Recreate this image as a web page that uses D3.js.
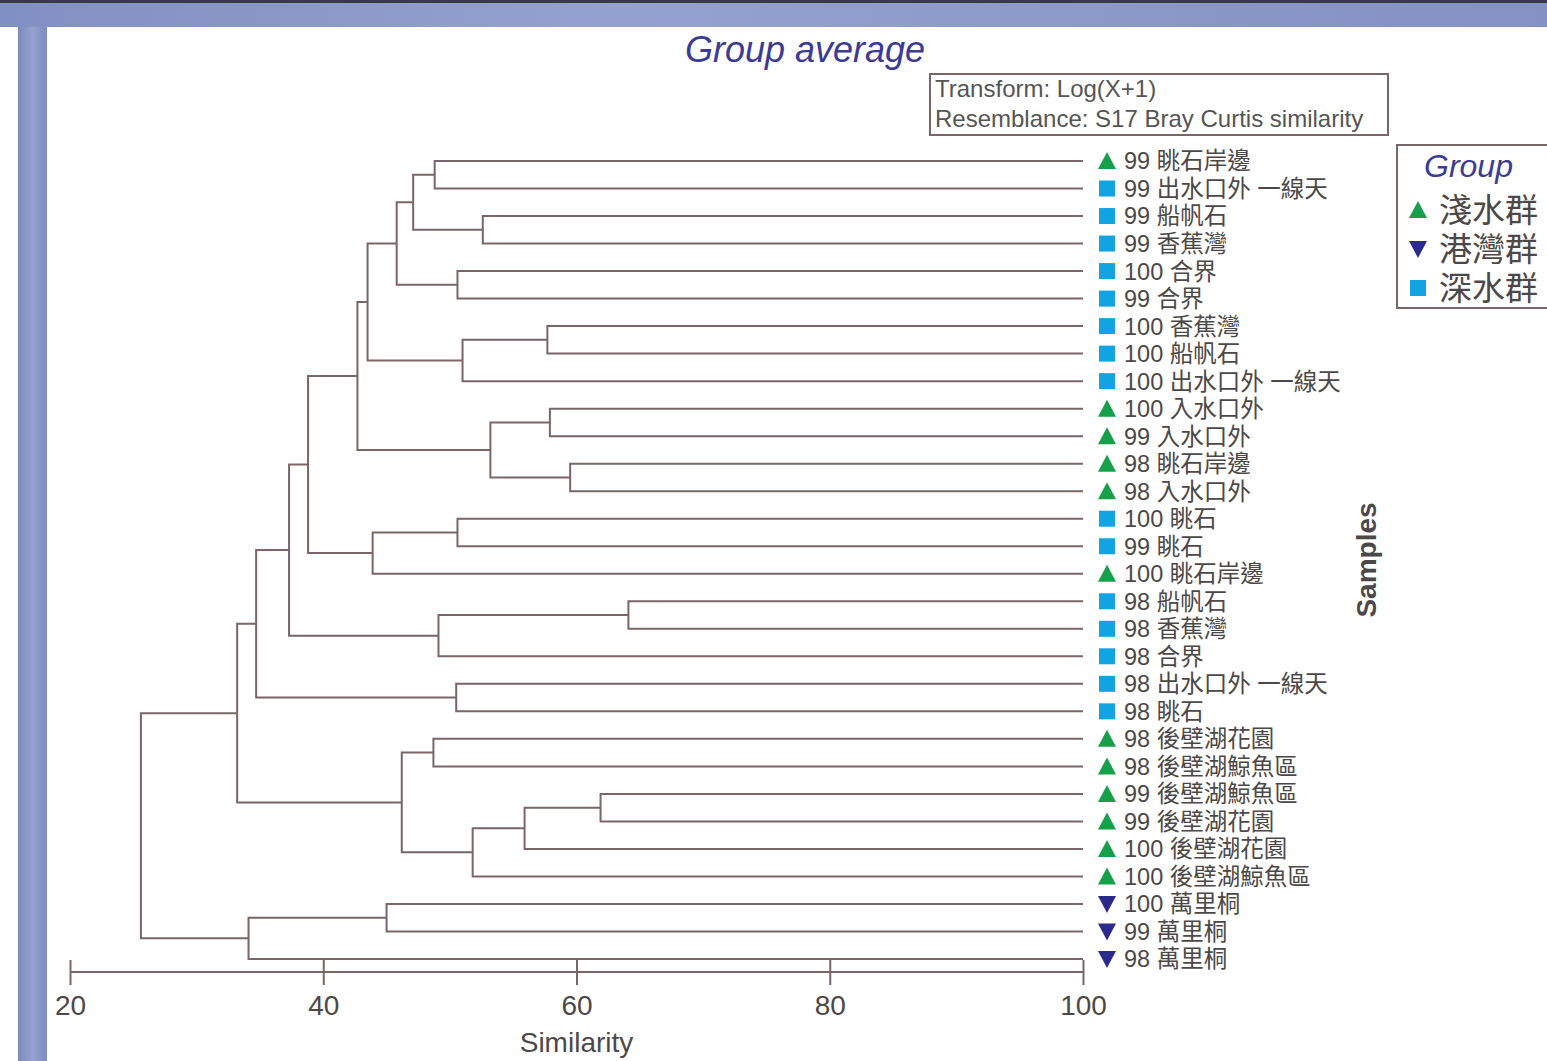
<!DOCTYPE html>
<html>
<head>
<meta charset="utf-8">
<script src="https://cdn.jsdelivr.net/npm/d3@7"></script>
<style>
  body { margin: 0; background: #fff; }
  svg { display: block; }
  text { font-family: "Liberation Sans", Arial, sans-serif; }
  .cjk { font-family: "Liberation Sans", "Noto Sans CJK TC", sans-serif; }
</style>
</head>
<body>
<svg id="chart"></svg>
<script>
// --- Data ---
const leafLabels = [
  "99 眺石岸邊", "99 出水口外 一線天", "99 船帆石", "99 香蕉灣", "100 合界", "99 合界",
  "100 香蕉灣", "100 船帆石", "100 出水口外 一線天", "100 入水口外", "99 入水口外",
  "98 眺石岸邊", "98 入水口外", "100 眺石", "99 眺石", "100 眺石岸邊", "98 船帆石",
  "98 香蕉灣", "98 合界", "98 出水口外 一線天", "98 眺石", "98 後壁湖花園",
  "98 後壁湖鯨魚區", "99 後壁湖鯨魚區", "99 後壁湖花園", "100 後壁湖花園",
  "100 後壁湖鯨魚區", "100 萬里桐", "99 萬里桐", "98 萬里桐",
];
const leafGroups = [
  "淺水群", "深水群", "深水群", "深水群", "深水群", "深水群", "深水群", "深水群", "深水群",
  "淺水群", "淺水群", "淺水群", "淺水群", "深水群", "深水群", "淺水群", "深水群", "深水群",
  "深水群", "深水群", "深水群", "淺水群", "淺水群", "淺水群", "淺水群", "淺水群", "淺水群",
  "港灣群", "港灣群", "港灣群",
];
// merges: node ids 0..29 are leaves, each merge creates node 30, 31, ...
const mergePairs = [
  [0, 1], [2, 3], [30, 31], [4, 5], [32, 33], [6, 7], [35, 8], [34, 36],
  [9, 10], [11, 12], [38, 39], [37, 40], [13, 14], [42, 15], [41, 43],
  [16, 17], [45, 18], [44, 46], [19, 20], [47, 48], [21, 22], [23, 24],
  [51, 25], [52, 26], [50, 53], [49, 54], [27, 28], [56, 29], [55, 57],
];
const mergeSims = [
  48.8, 52.6, 47.1, 50.6, 45.8, 57.7, 51.0, 43.5,
  57.9, 59.5, 53.2, 42.7, 50.6, 43.9, 38.8,
  64.1, 49.1, 37.3, 50.5, 34.7, 48.7, 61.9,
  55.9, 51.8, 46.2, 33.2, 45.0, 34.1, 25.6,
];
const simTicks = [20, 40, 60, 80, 100];
const groupNames = ["淺水群", "港灣群", "深水群"];
const groupColors = ["#17a04a", "#2a2a8c", "#12a4e2"];
const groupShapes = ["up", "down", "square"];

// --- Setup ---
const width = 1547,
  height = 1061;
const lineColor = "#7a6666";
const textColor = "#4d4848";
const svg = d3.select("#chart").attr("width", width).attr("height", height);

// frame (slide background)
const defs = svg.append("defs");
const gTop = defs.append("linearGradient").attr("id", "gTop").attr("x1", 0).attr("x2", 1);
gTop.append("stop").attr("offset", "0%").attr("stop-color", "#8190c2");
gTop.append("stop").attr("offset", "40%").attr("stop-color", "#95a2cf");
gTop.append("stop").attr("offset", "100%").attr("stop-color", "#8391c3");
const gLeft = defs.append("linearGradient").attr("id", "gLeft").attr("x1", 0).attr("x2", 1);
gLeft.append("stop").attr("offset", "0%").attr("stop-color", "#7c8bbe");
gLeft.append("stop").attr("offset", "50%").attr("stop-color", "#95a2cf");
gLeft.append("stop").attr("offset", "100%").attr("stop-color", "#7d8cbf");

svg.append("rect").attr("width", width).attr("height", height).attr("fill", "#fff");
svg.append("rect").attr("x", 0).attr("y", 0).attr("width", width).attr("height", 27).attr("fill", "url(#gTop)");
svg.append("rect").attr("x", 0).attr("y", 0).attr("width", width).attr("height", 3).attr("fill", "#3a3a44");
svg.append("rect").attr("x", 18).attr("y", 27).attr("width", 29).attr("height", height - 27).attr("fill", "url(#gLeft)");

// --- Scales ---
const x = d3.scaleLinear().domain([20, 100]).range([70, 1083]);
const y = d3.scalePoint().domain(d3.range(leafLabels.length)).range([161, 959]);

// node positions
const nodeX = leafLabels.map(() => x(100));
const nodeY = leafLabels.map((_, i) => y(i));
mergePairs.forEach(([a, b], k) => {
  nodeX.push(x(mergeSims[k]));
  nodeY.push((nodeY[a] + nodeY[b]) / 2);
});

// --- Dendrogram ---
const tree = svg.append("g")
  .attr("fill", "none")
  .attr("stroke", lineColor)
  .attr("stroke-width", 2);
mergePairs.forEach(([a, b], k) => {
  const mx = x(mergeSims[k]);
  const path = d3.path();
  path.moveTo(nodeX[a], nodeY[a]);
  path.lineTo(mx, nodeY[a]);
  path.lineTo(mx, nodeY[b]);
  path.lineTo(nodeX[b], nodeY[b]);
  tree.append("path").attr("d", path.toString());
});

// --- Leaf markers and labels ---
function markerPath(shape, cx, cy) {
  if (shape === "up") return `M${cx - 9},${cy + 8}L${cx},${cy - 9}L${cx + 9},${cy + 8}Z`;
  if (shape === "down") return `M${cx - 9},${cy - 8}L${cx},${cy + 9}L${cx + 9},${cy - 8}Z`;
  return `M${cx - 8},${cy - 8}h16v16h-16Z`;
}
const leaves = svg.append("g");
leafLabels.forEach((label, i) => {
  const gi = groupNames.indexOf(leafGroups[i]);
  leaves.append("path")
    .attr("d", markerPath(groupShapes[gi], 1107, y(i)))
    .attr("fill", groupColors[gi]);
  leaves.append("text")
    .attr("class", "cjk")
    .attr("x", 1124)
    .attr("y", y(i))
    .attr("dy", "0.36em")
    .attr("font-size", 23.5)
    .attr("fill", textColor)
    .text(label);
});

// --- Axis ---
const axis = svg.append("g")
  .attr("transform", "translate(0,960)")
  .call(d3.axisBottom(x).tickValues(simTicks).tickSizeInner(25).tickSizeOuter(0).tickPadding(10));
axis.select(".domain").remove();
axis.selectAll(".tick line").attr("stroke", lineColor).attr("stroke-width", 2);
axis.selectAll(".tick text")
  .attr("font-size", 28)
  .attr("fill", textColor)
  .attr("font-family", "Liberation Sans, Arial, sans-serif");
svg.append("line")
  .attr("x1", x(20)).attr("x2", x(100))
  .attr("y1", 972).attr("y2", 972)
  .attr("stroke", lineColor).attr("stroke-width", 2);
svg.append("text")
  .attr("x", x(60))
  .attr("y", 1052)
  .attr("text-anchor", "middle")
  .attr("font-size", 28)
  .attr("fill", textColor)
  .text("Similarity");

svg.append("text")
  .attr("transform", "translate(1376,560) rotate(-90)")
  .attr("text-anchor", "middle")
  .attr("font-size", 28)
  .attr("font-weight", "bold")
  .attr("fill", textColor)
  .text("Samples");

// --- Title ---
svg.append("text")
  .attr("x", 805)
  .attr("y", 62)
  .attr("text-anchor", "middle")
  .attr("font-size", 36)
  .attr("font-style", "italic")
  .attr("fill", "#3b3b96")
  .text("Group average");

// --- Info box ---
svg.append("rect")
  .attr("x", 930).attr("y", 74).attr("width", 458).attr("height", 61)
  .attr("fill", "#fff").attr("stroke", lineColor).attr("stroke-width", 2);
["Transform: Log(X+1)", "Resemblance: S17 Bray Curtis similarity"].forEach((t, i) => {
  svg.append("text")
    .attr("x", 935)
    .attr("y", 97 + i * 30)
    .attr("font-size", 24)
    .attr("fill", "#555")
    .text(t);
});

// --- Legend ---
const legend = svg.append("g");
legend.append("rect")
  .attr("x", 1397).attr("y", 145).attr("width", 160).attr("height", 163)
  .attr("fill", "#fff").attr("stroke", lineColor).attr("stroke-width", 2);
legend.append("text")
  .attr("x", 1424).attr("y", 177)
  .attr("font-size", 32)
  .attr("font-style", "italic")
  .attr("fill", "#3b3b96")
  .text("Group");
groupNames.forEach((name, i) => {
  const cy = 210 + i * 39;
  legend.append("path")
    .attr("d", markerPath(groupShapes[i], 1418, cy))
    .attr("fill", groupColors[i]);
  legend.append("text")
    .attr("class", "cjk")
    .attr("x", 1439)
    .attr("y", cy)
    .attr("dy", "0.36em")
    .attr("font-size", 33)
    .attr("fill", textColor)
    .text(name);
});
</script>
</body>
</html>
